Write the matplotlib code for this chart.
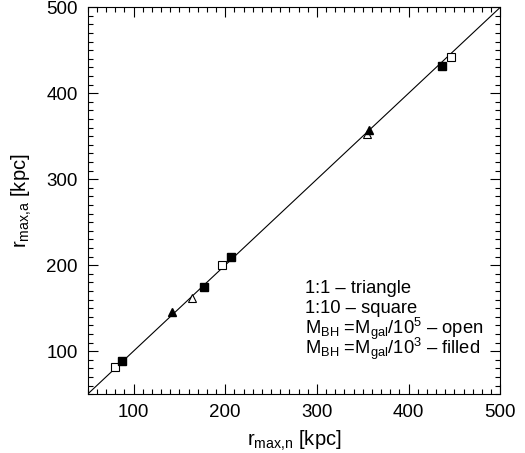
import matplotlib
matplotlib.use("Agg")
import matplotlib.pyplot as plt
from matplotlib.ticker import MultipleLocator

plt.rcParams['font.family'] = ['Liberation Sans', 'DejaVu Sans']
plt.rcParams['mathtext.fontset'] = 'custom'
plt.rcParams['mathtext.rm'] = 'Liberation Sans'
plt.rcParams['mathtext.default'] = 'rm'

# r_max w dwoch wariantach (n - os x, a - os y)
tri_open_x = [164, 355]
tri_open_y = [162, 352]
tri_fill_x = [142, 357]
tri_fill_y = [146, 357]
sq_open_x = [80, 196, 446]
sq_open_y = [82, 200, 442]
sq_fill_x = [87, 177, 206, 436]
sq_fill_y = [88, 175, 209, 432]

legenda = ["1:1 \u2013 triangle",
           "1:10 \u2013 square",
           "M$_{BH}$ =M$_{gal}$/10$^5$ \u2013 open",
           "M$_{BH}$ =M$_{gal}$/10$^3$ \u2013 filled"]

fig = plt.figure(figsize=(5.25, 4.53), dpi=100)
ax = fig.add_axes([0.167, 0.130, 0.786, 0.854])

ax.plot([50, 500], [50, 500], color='black', linewidth=0.8)

ax.plot(tri_open_x, tri_open_y, linestyle='None', marker='^', markersize=6,
        markerfacecolor='white', markeredgecolor='black', markeredgewidth=0.8)
ax.plot(tri_fill_x, tri_fill_y, linestyle='None', marker='^', markersize=6,
        markerfacecolor='black', markeredgecolor='black')
ax.plot(sq_open_x, sq_open_y, linestyle='None', marker='s', markersize=5.5,
        markerfacecolor='white', markeredgecolor='black', markeredgewidth=0.8)
ax.plot(sq_fill_x, sq_fill_y, linestyle='None', marker='s', markersize=5.5,
        markerfacecolor='black', markeredgecolor='black')

ax.set_xlim(50, 500)
ax.set_ylim(50, 500)
ax.xaxis.set_major_locator(MultipleLocator(100))
ax.yaxis.set_major_locator(MultipleLocator(100))
ax.xaxis.set_minor_locator(MultipleLocator(10))
ax.yaxis.set_minor_locator(MultipleLocator(10))
ax.tick_params(which='both', direction='in', top=True, right=True, labelsize=13.5, width=0.8)
ax.tick_params(which='major', length=7, pad=7)
ax.tick_params(which='minor', length=3.5)
for s in ax.spines.values():
    s.set_linewidth(0.8)

ax.set_xlabel("r$_{max{,}n}$ [kpc]", fontsize=14.5, labelpad=6)
ax.set_ylabel("r$_{max{,}a}$ [kpc]", fontsize=14.5, labelpad=9)

# opis symboli - kazda linia osobno, rowne odstepy
for i, t in enumerate(legenda):
    ax.text(0.527, 0.272 - i * 0.0517, t, transform=ax.transAxes, fontsize=13.2,
            va='center', ha='left')

fig.savefig("out.png", dpi=100)
